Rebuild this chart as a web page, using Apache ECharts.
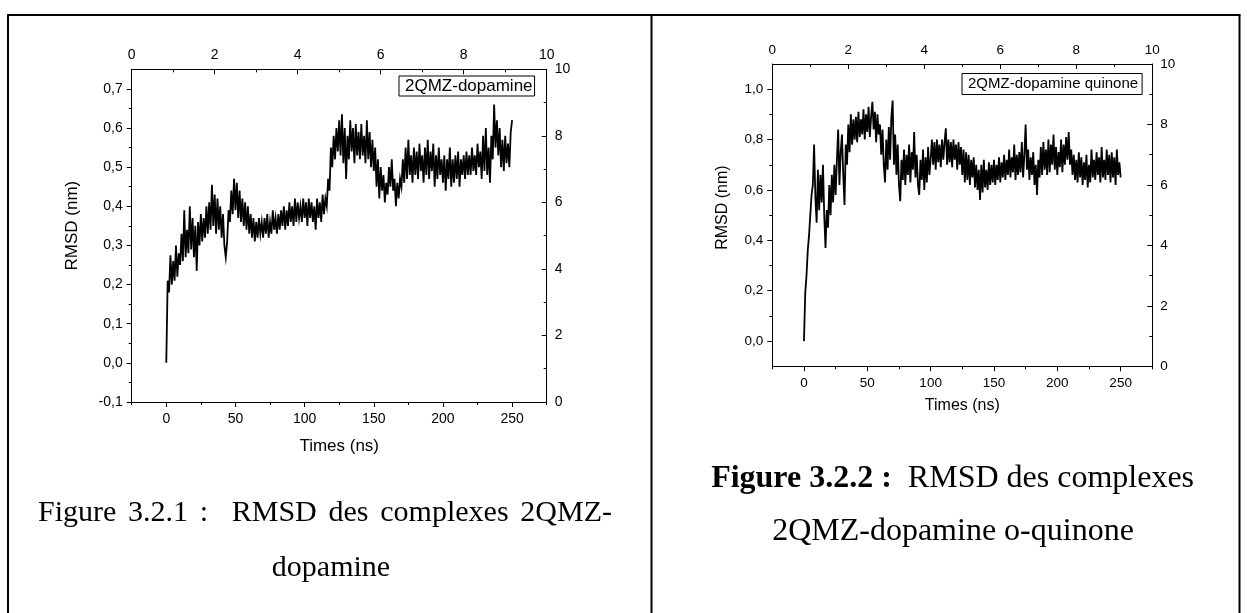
<!DOCTYPE html>
<html>
<head>
<meta charset="utf-8">
<script src="https://cdn.jsdelivr.net/npm/echarts@6/dist/echarts.min.js"></script>
<style>html,body{margin:0;padding:0;background:#fff}#c{width:1247px;height:613px}</style>
</head>
<body>
<div id="c"></div>
<script>
// ---- data (RMSD in nm, one sample per ns) ----
const timeStepNs = 1;
const dopamineRmsd = [
  0.00, 0.21, 0.18, 0.275, 0.20, 0.26, 0.21, 0.30, 0.22, 0.28,
  0.25, 0.33, 0.26, 0.39, 0.27, 0.34, 0.28, 0.40, 0.29, 0.37,
  0.27, 0.35, 0.235, 0.36, 0.30, 0.38, 0.31, 0.37, 0.32, 0.40,
  0.33, 0.41, 0.34, 0.455, 0.35, 0.43, 0.33, 0.42, 0.34, 0.40,
  0.32, 0.38, 0.30, 0.27, 0.31, 0.39, 0.36, 0.44, 0.38, 0.47,
  0.39, 0.46, 0.37, 0.44, 0.36, 0.42, 0.35, 0.41, 0.34, 0.40,
  0.33, 0.38, 0.32, 0.37, 0.31, 0.36, 0.32, 0.37, 0.33, 0.36,
  0.32, 0.37, 0.33, 0.38, 0.32, 0.36, 0.33, 0.39, 0.34, 0.37,
  0.33, 0.38, 0.34, 0.39, 0.35, 0.40, 0.34, 0.39, 0.35, 0.41,
  0.36, 0.40, 0.35, 0.42, 0.36, 0.41, 0.37, 0.40, 0.36, 0.42,
  0.37, 0.41, 0.35, 0.42, 0.37, 0.41, 0.36, 0.40, 0.34, 0.42,
  0.37, 0.41, 0.36, 0.43, 0.38, 0.42, 0.40, 0.47, 0.44, 0.55,
  0.50, 0.58, 0.52, 0.60, 0.54, 0.62, 0.53, 0.635, 0.51, 0.60,
  0.47, 0.58, 0.52, 0.62, 0.54, 0.60, 0.51, 0.61, 0.53, 0.59,
  0.52, 0.61, 0.53, 0.58, 0.51, 0.62, 0.52, 0.59, 0.50, 0.57,
  0.49, 0.55, 0.45, 0.52, 0.42, 0.50, 0.44, 0.48, 0.41, 0.46,
  0.43, 0.50, 0.45, 0.52, 0.44, 0.47, 0.40, 0.46, 0.42, 0.47,
  0.45, 0.52, 0.46, 0.55, 0.47, 0.57, 0.48, 0.53, 0.46, 0.55,
  0.48, 0.54, 0.47, 0.56, 0.49, 0.53, 0.46, 0.55, 0.48, 0.57,
  0.47, 0.54, 0.49, 0.56, 0.45, 0.53, 0.47, 0.55, 0.48, 0.52,
  0.46, 0.53, 0.44, 0.52, 0.47, 0.55, 0.45, 0.52, 0.46, 0.53,
  0.47, 0.54, 0.45, 0.52, 0.48, 0.53, 0.47, 0.54, 0.48, 0.53,
  0.48, 0.55, 0.49, 0.53, 0.48, 0.56, 0.50, 0.54, 0.47, 0.58,
  0.49, 0.60, 0.48, 0.55, 0.46, 0.58, 0.52, 0.66, 0.55, 0.62,
  0.53, 0.60, 0.50, 0.57, 0.49, 0.58, 0.51, 0.56, 0.50, 0.59,
  0.62
];
const quinoneRmsd = [
  0.00, 0.19, 0.26, 0.36, 0.42, 0.50, 0.58, 0.62, 0.78, 0.57,
  0.47, 0.68, 0.52, 0.66, 0.55, 0.70, 0.50, 0.37, 0.52, 0.45,
  0.62, 0.50, 0.66, 0.55, 0.70, 0.58, 0.72, 0.84, 0.62, 0.75,
  0.82, 0.66, 0.54, 0.78, 0.70, 0.86, 0.75, 0.90, 0.78, 0.88,
  0.80, 0.89, 0.79, 0.91, 0.81, 0.88, 0.82, 0.92, 0.80, 0.90,
  0.83, 0.93, 0.81, 0.89, 0.95, 0.84, 0.91, 0.79, 0.90, 0.82,
  0.86, 0.74, 0.84, 0.70, 0.63, 0.80, 0.68, 0.85, 0.72, 0.89,
  0.955, 0.70, 0.82, 0.66, 0.78, 0.62, 0.555, 0.72, 0.64, 0.76,
  0.62, 0.74, 0.66, 0.78, 0.63, 0.75, 0.68, 0.83, 0.65, 0.74,
  0.62, 0.58, 0.72, 0.64, 0.76, 0.60, 0.73, 0.63, 0.77, 0.66,
  0.72, 0.80, 0.70, 0.79, 0.68, 0.80, 0.71, 0.78, 0.69, 0.80,
  0.72, 0.79, 0.845, 0.70, 0.80, 0.71, 0.79, 0.69, 0.80, 0.72,
  0.78, 0.68, 0.79, 0.70, 0.77, 0.66, 0.76, 0.63, 0.75, 0.64,
  0.74, 0.62, 0.72, 0.65, 0.73, 0.61, 0.70, 0.60, 0.68, 0.56,
  0.70, 0.59, 0.72, 0.61, 0.68, 0.60, 0.71, 0.62, 0.70, 0.63,
  0.72, 0.62, 0.70, 0.64, 0.73, 0.63, 0.71, 0.65, 0.74, 0.64,
  0.72, 0.66, 0.76, 0.65, 0.73, 0.67, 0.78, 0.64, 0.74, 0.66,
  0.75, 0.67, 0.79, 0.65, 0.74, 0.86, 0.68, 0.76, 0.64, 0.73,
  0.66, 0.75, 0.62, 0.70, 0.58, 0.72, 0.65, 0.77, 0.66, 0.79,
  0.68, 0.76, 0.66, 0.80, 0.67, 0.78, 0.70, 0.82, 0.68, 0.77,
  0.66, 0.75, 0.69, 0.80, 0.67, 0.78, 0.70, 0.81, 0.72, 0.83,
  0.70, 0.76, 0.66, 0.74, 0.64, 0.72, 0.63, 0.75, 0.65, 0.73,
  0.62, 0.71, 0.64, 0.74, 0.61, 0.70, 0.63, 0.76, 0.65, 0.72,
  0.64, 0.75, 0.66, 0.73, 0.63, 0.77, 0.65, 0.72, 0.64, 0.76,
  0.66, 0.74, 0.63, 0.75, 0.65, 0.73, 0.62, 0.76, 0.66, 0.71,
  0.65
];
const seriesNames = ['2QMZ-dopamine', '2QMZ-dopamine quinone'];
const timeTicks = [0, 50, 100, 150, 200, 250];
const timeMinorTicks = [-25, 25, 75, 125, 175, 225, 275];
const dopRmsdTicks = [-0.1, 0, 0.1, 0.2, 0.3, 0.4, 0.5, 0.6, 0.7];
const dopRmsdMinorTicks = [-0.05, 0.05, 0.15, 0.25, 0.35, 0.45, 0.55, 0.65];
const quiRmsdTicks = [0, 0.2, 0.4, 0.6, 0.8, 1.0];
const quiRmsdMinorTicks = [0.1, 0.3, 0.5, 0.7, 0.9];
const caption1 = ['Figure 3.2.1 :  RMSD des complexes 2QMZ-', 'dopamine'];
const caption2 = ['Figure 3.2.2 :', 'RMSD des complexes', '2QMZ-dopamine o-quinone'];
const axisTitles = { x: 'Times (ns)', y: 'RMSD (nm)' };

// ---- chart ----
const sans = '"Liberation Sans", Arial, sans-serif';
const serif = '"Liberation Serif", "Times New Roman", serif';
const ln = { color: '#000', width: 1 };
const comma = v => (Math.round(v * 10) / 10).toFixed(1).replace('.', ',');
const toPairs = arr => arr.map((v, i) => [i * timeStepNs, v]);

function bottomAxis(g, fs, titleFs, nameGap) {
  return [
    { type: 'value', gridIndex: g, position: 'bottom', min: -25, max: 275,
      name: axisTitles.x, nameLocation: 'middle', nameGap: nameGap,
      nameTextStyle: { fontFamily: sans, fontSize: titleFs, color: '#000' },
      axisLine: { show: true, onZero: false, lineStyle: ln },
      axisTick: { show: true, customValues: timeTicks, length: 5, lineStyle: ln },
      axisLabel: { customValues: timeTicks, margin: 10, fontFamily: sans, fontSize: fs, color: '#000' },
      splitLine: { show: false } },
    { type: 'value', gridIndex: g, position: 'bottom', min: -25, max: 275,
      axisLine: { show: false, onZero: false },
      axisTick: { show: true, customValues: timeMinorTicks, length: 3, lineStyle: ln },
      axisLabel: { show: false }, splitLine: { show: false } },
    { type: 'value', gridIndex: g, position: 'top', min: 0, max: 10, interval: 2,
      axisLine: { show: true, onZero: false, lineStyle: ln },
      axisTick: { show: true, inside: true, length: 5, lineStyle: ln },
      minorTick: { show: true, splitNumber: 2, length: 3, lineStyle: ln },
      axisLabel: { margin: 7, fontFamily: sans, fontSize: fs, color: '#000' },
      splitLine: { show: false }, minorSplitLine: { show: false } }
  ];
}
function leftAxis(g, min, max, ticks, minor, fs, titleFs, nameGap, shift) {
  return [
    { type: 'value', gridIndex: g, position: 'left', min: min, max: max,
      name: axisTitles.y, nameLocation: 'middle', nameGap: nameGap,
      nameTextStyle: { fontFamily: sans, fontSize: titleFs, color: '#000', padding: [0, 0, 0, shift] },
      axisLine: { show: true, onZero: false, lineStyle: ln },
      axisTick: { show: true, customValues: ticks, length: 5, lineStyle: ln },
      axisLabel: { customValues: ticks, margin: 9, fontFamily: sans, fontSize: fs, color: '#000', formatter: comma },
      splitLine: { show: false } },
    { type: 'value', gridIndex: g, position: 'left', min: min, max: max,
      axisLine: { show: false, onZero: false },
      axisTick: { show: true, customValues: minor, length: 3, lineStyle: ln },
      axisLabel: { show: false }, splitLine: { show: false } },
    { type: 'value', gridIndex: g, position: 'right', min: 0, max: 10, interval: 2,
      axisLine: { show: true, onZero: false, lineStyle: ln },
      axisTick: { show: true, inside: true, length: 5, lineStyle: ln },
      minorTick: { show: true, splitNumber: 2, length: 3, lineStyle: ln },
      axisLabel: { margin: 8, fontFamily: sans, fontSize: fs, color: '#000' },
      splitLine: { show: false }, minorSplitLine: { show: false } }
  ];
}

// justified caption line: words spread between x0 and x1 (like the document's justified paragraph)
function justified(line, x0, x1, y, fontSize) {
  const ctx = document.createElement('canvas').getContext('2d');
  ctx.font = fontSize + 'px "Liberation Serif"';
  const parts = line.split(/( +)/);
  let natural = 0, nSpaces = 0;
  parts.forEach(p => {
    if (/^ +$/.test(p)) { natural += ctx.measureText(p).width; nSpaces += p.length; }
    else natural += ctx.measureText(p).width;
  });
  const extra = nSpaces ? (x1 - x0 - natural) / nSpaces : 0;
  const out = [];
  let x = x0;
  parts.forEach(p => {
    if (p === '') return;
    if (/^ +$/.test(p)) { x += ctx.measureText(p).width + extra * p.length; return; }
    out.push({ type: 'text', x: x, y: y, style: { text: p, fontFamily: serif, fontSize: fontSize, fill: '#000', align: 'left', verticalAlign: 'middle' } });
    x += ctx.measureText(p).width;
  });
  return out;
}

const chart = echarts.init(document.getElementById('c'), null, { renderer: 'canvas' });
chart.setOption({
  backgroundColor: '#fff',
  animation: false,
  grid: [
    { left: 131.7, top: 69.3, width: 415, height: 332.7 },
    { left: 772.3, top: 64, width: 380, height: 302.3 }
  ],
  xAxis: [].concat(bottomAxis(0, 14, 17, 36), bottomAxis(1, 13.5, 16, 31)),
  yAxis: [].concat(
    leftAxis(0, -0.1, 0.75, dopRmsdTicks, dopRmsdMinorTicks, 14, 17, 51, 20),
    leftAxis(1, -0.1, 1.1, quiRmsdTicks, quiRmsdMinorTicks, 13.5, 16, 42, 15)
  ),
  legend: [
    { data: [seriesNames[0]], left: 399, top: 76, itemWidth: 0, itemHeight: 0, itemGap: 0,
      padding: [1, 2, 1, 0], borderColor: '#000', borderWidth: 1, selectedMode: false,
      textStyle: { fontFamily: sans, fontSize: 17, color: '#000', lineHeight: 18 } },
    { data: [seriesNames[1]], left: 962, top: 73.5, itemWidth: 0, itemHeight: 0, itemGap: 0,
      padding: [2, 4, 2, 0], borderColor: '#000', borderWidth: 1, selectedMode: false,
      textStyle: { fontFamily: sans, fontSize: 15, color: '#000', lineHeight: 17 } }
  ],
  series: [
    { name: seriesNames[0], type: 'line', xAxisIndex: 0, yAxisIndex: 0, data: toPairs(dopamineRmsd),
      showSymbol: false, symbol: 'none', sampling: null, lineStyle: { color: '#000', width: 1.8, join: 'miter' }, itemStyle: { color: '#000' } },
    { name: seriesNames[1], type: 'line', xAxisIndex: 3, yAxisIndex: 3, data: toPairs(quinoneRmsd),
      showSymbol: false, symbol: 'none', sampling: null, lineStyle: { color: '#000', width: 1.8, join: 'miter' }, itemStyle: { color: '#000' } }
  ],
  graphic: [
    { type: 'line', shape: { x1: 7, y1: 15, x2: 1240.5, y2: 15 }, style: { stroke: '#000', lineWidth: 2 } },
    { type: 'line', shape: { x1: 8, y1: 15, x2: 8, y2: 613 }, style: { stroke: '#000', lineWidth: 2 } },
    { type: 'line', shape: { x1: 651.5, y1: 15, x2: 651.5, y2: 613 }, style: { stroke: '#000', lineWidth: 2 } },
    { type: 'line', shape: { x1: 1239.5, y1: 15, x2: 1239.5, y2: 613 }, style: { stroke: '#000', lineWidth: 2 } }
  ].concat(
    justified(caption1[0], 38, 612, 513, 30),
    [
      { type: 'text', x: 331, y: 568, style: { text: caption1[1], fontFamily: serif, fontSize: 30, fill: '#000', align: 'center', verticalAlign: 'middle' } },
      { type: 'text', x: 952.6, y: 479, style: { text: '{b|' + caption2[0] + '}  ' + caption2[1], fontFamily: serif, fontSize: 32, fill: '#000', align: 'center', verticalAlign: 'middle',
          rich: { b: { fontFamily: serif, fontSize: 32, fontWeight: 'bold', fill: '#000' } } } },
      { type: 'text', x: 953, y: 532, style: { text: caption2[2], fontFamily: serif, fontSize: 32, fill: '#000', align: 'center', verticalAlign: 'middle' } }
    ]
  )
});
</script>
</body>
</html>
